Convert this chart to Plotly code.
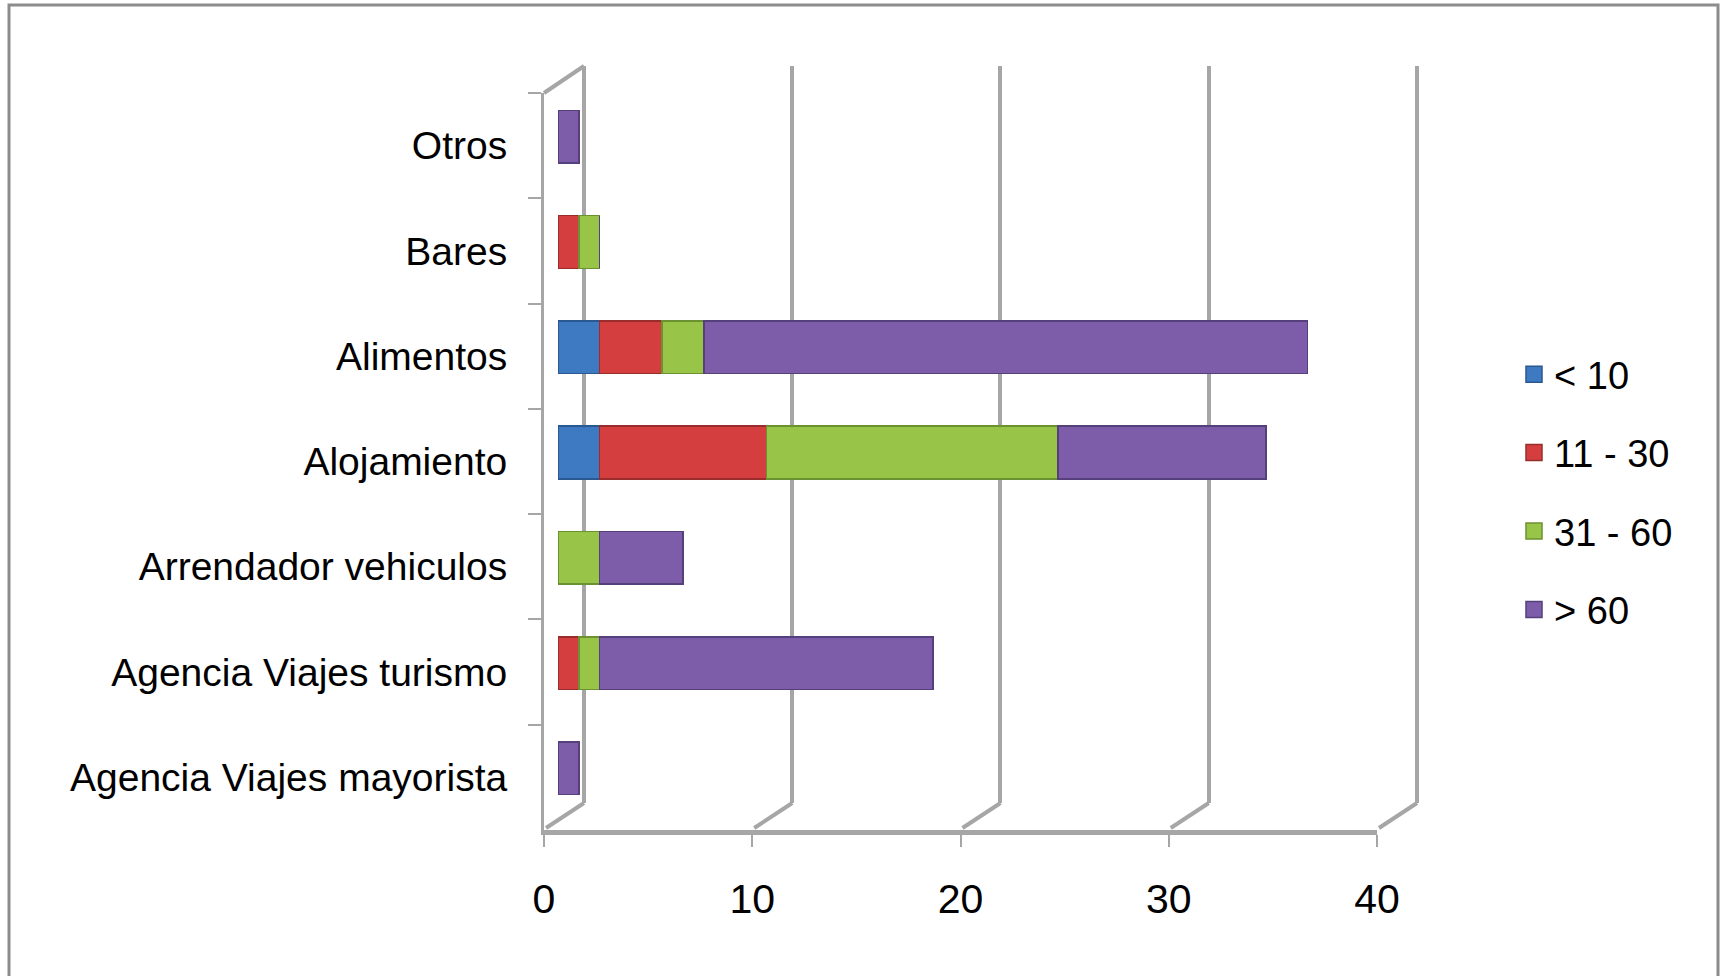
import plotly.graph_objects as go

# ---- data ----
categories = ["Agencia Viajes mayorista", "Agencia Viajes turismo", "Arrendador vehiculos",
              "Alojamiento", "Alimentos", "Bares", "Otros"]
series_names = ["< 10", "11 - 30", "31 - 60", "> 60"]
lt10 = [0, 0, 0, 2, 2, 0, 0]
r11_30 = [0, 1, 0, 8, 3, 1, 0]
r31_60 = [0, 1, 2, 14, 2, 1, 0]
gt60 = [1, 16, 4, 10, 29, 0, 1]
x_ticks = [0, 10, 20, 30, 40]
x_max = 40

colors = ["#3d7ac2", "#d43e3e", "#98c548", "#7d5ca9"]
edge = ["#2a5890", "#992c2c", "#6c9130", "#56407c"]

W, H = 1723, 976
def fx(px):
    return px / W
def fy(py):
    return 1 - py / H

GRID = "#a6a6a6"
FONT = "Liberation Sans, Arial, sans-serif"

fig = go.Figure()
vals = [lt10, r11_30, r31_60, gt60]
for i, (name, v) in enumerate(zip(series_names, vals)):
    fig.add_trace(go.Bar(
        y=categories, x=v, orientation="h", name=name,
        marker=dict(color=colors[i], line=dict(color=edge[i], width=1.5)),
        xaxis="x2", yaxis="y2", legendgroup=name, showlegend=False,
    ))
    # legend proxy with a larger square swatch
    fig.add_trace(go.Scatter(
        x=[None], y=[None], mode="markers", name=name, legendgroup=name,
        marker=dict(symbol="square", size=20, color=colors[i], line=dict(color=edge[i], width=1.5)),
        xaxis="x2", yaxis="y2", hoverinfo="skip",
    ))

# invisible trace to establish categories on front axis
fig.add_trace(go.Scatter(x=[None] * len(categories), y=categories, xaxis="x3", yaxis="y3",
                         showlegend=False, mode="markers", hoverinfo="skip"))
# invisible trace for back subplot
fig.add_trace(go.Scatter(x=[None], y=[None], xaxis="x", yaxis="y", showlegend=False,
                         mode="markers", hoverinfo="skip"))

front_x = [544, 1377]
front_y = [93, 830]
dx_back, dy_back = 40, -27
dx_bar, dy_bar = 14, -9
ppu = (front_x[1] - front_x[0]) / x_max
pad = 0.5  # extra range on back axis so edge gridlines are drawn

fig.update_layout(
    template="none",
    width=W, height=H,
    margin=dict(l=0, r=0, t=0, b=0, pad=0, autoexpand=False),
    paper_bgcolor="white", plot_bgcolor="rgba(0,0,0,0)",
    barmode="stack", bargap=0.5,
    font=dict(family=FONT, size=38, color="black"),
    showlegend=True,
    legend=dict(x=fx(1514), y=fy(492), xanchor="left", yanchor="middle",
                traceorder="grouped", tracegroupgap=26, itemwidth=30, itemsizing="trace",
                font=dict(size=38, family=FONT, color="black"),
                bgcolor="rgba(0,0,0,0)", borderwidth=0),
    # back wall gridlines
    xaxis=dict(domain=[fx(front_x[0] + dx_back - pad * ppu), fx(front_x[1] + dx_back + pad * ppu)],
               range=[-pad, x_max + pad],
               tickvals=x_ticks, showgrid=True, gridcolor=GRID, gridwidth=4,
               showticklabels=False, ticks="", zeroline=False, showline=False,
               automargin=False, anchor="y"),
    yaxis=dict(domain=[fy(front_y[1] + dy_back), fy(front_y[0] + dy_back)], range=[0, 1],
               showgrid=False, showticklabels=False, zeroline=False, showline=False,
               automargin=False, anchor="x"),
    # bars
    xaxis2=dict(domain=[fx(front_x[0] + dx_bar), fx(front_x[1] + dx_bar)], range=[0, x_max],
                visible=False, automargin=False, anchor="y2"),
    yaxis2=dict(domain=[fy(front_y[1] + dy_bar), fy(front_y[0] + dy_bar)], range=[-0.5, 6.5],
                type="category", categoryorder="array", categoryarray=categories,
                visible=False, automargin=False, anchor="x2"),
    # front axes
    xaxis3=dict(domain=[fx(front_x[0]), fx(front_x[1])], range=[0, x_max],
                tickvals=x_ticks, showgrid=False, zeroline=False,
                showline=True, linecolor=GRID, linewidth=5,
                ticks="outside", ticklen=12, tickwidth=2, tickcolor=GRID,
                ticklabelstandoff=17, automargin=False,
                tickfont=dict(size=41, family=FONT, color="black"), anchor="y3"),
    yaxis3=dict(domain=[fy(front_y[1]), fy(front_y[0])], range=[-0.5, 6.5],
                type="category", categoryorder="array", categoryarray=categories,
                tickson="boundaries", showgrid=False, zeroline=False,
                showline=True, linecolor=GRID, linewidth=3,
                ticks="outside", ticklen=13, tickwidth=2, tickcolor=GRID,
                ticklabelstandoff=26, automargin=False,
                tickfont=dict(size=39, family=FONT, color="black"), anchor="x3"),
)

shapes = []
# depth lines on the floor from front ticks to back gridlines (domain refs -> not clipped)
for v in x_ticks:
    shapes.append(dict(type="line", xref="x3 domain", yref="y3 domain",
                       xsizemode="pixel", ysizemode="pixel",
                       xanchor=v / x_max, yanchor=0, x0=2, x1=dx_back, y0=2, y1=-dy_back,
                       line=dict(color=GRID, width=4)))
# top-left depth line
shapes.append(dict(type="line", xref="x3 domain", yref="y3 domain",
                   xsizemode="pixel", ysizemode="pixel",
                   xanchor=0, yanchor=1, x0=0, x1=dx_back, y0=0, y1=-dy_back,
                   line=dict(color=GRID, width=4)))
# outer frame
shapes.append(dict(type="rect", xref="paper", yref="paper",
                   x0=fx(9), x1=fx(1718), y0=-0.05, y1=fy(5),
                   line=dict(color="#8c8c8c", width=3), fillcolor="rgba(0,0,0,0)", layer="below"))
fig.update_layout(shapes=shapes)

fig.write_html("out.html")
